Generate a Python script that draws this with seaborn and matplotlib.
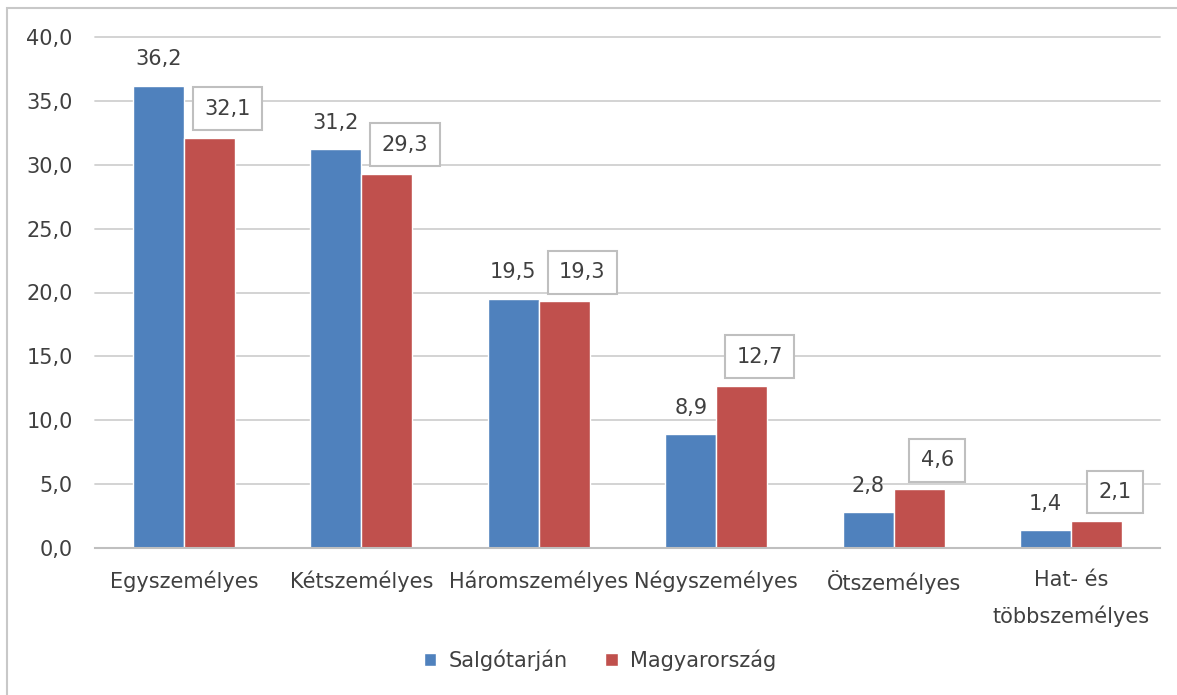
import matplotlib
matplotlib.use("Agg")
import matplotlib.pyplot as plt
import seaborn as sns
import pandas as pd
import numpy as np
from matplotlib.patches import Rectangle, Patch

categories = ["Egyszemélyes", "Kétszemélyes", "Háromszemélyes", "Négyszemélyes",
              "Ötszemélyes", "Hat- és\ntöbbszemélyes"]
salgotarjan = [36.2, 31.2, 19.5, 8.9, 2.8, 1.4]
magyarorszag = [32.1, 29.3, 19.3, 12.7, 4.6, 2.1]
series_names = ["Salgótarján", "Magyarország"]
yticks = [0, 5, 10, 15, 20, 25, 30, 35, 40]

blue = "#4F81BD"
red = "#C0504D"
gray = "#BFBFBF"
txt = "#404040"
fs = 15

df = pd.DataFrame({
    "cat": categories * 2,
    "val": salgotarjan + magyarorszag,
    "series": [series_names[0]] * len(categories) + [series_names[1]] * len(categories),
})

sns.set_style("white")
plt.rcParams["font.family"] = ["DejaVu Sans"]

fig = plt.figure(figsize=(11.77, 6.95), dpi=100)
ax = fig.add_axes([95 / 1177, 1 - 548 / 695, (1160 - 95) / 1177, (548 - 37) / 695])

sns.barplot(data=df, x="cat", y="val", hue="series", order=categories,
            hue_order=series_names, palette=[blue, red], width=0.575, saturation=1,
            edgecolor="white", linewidth=1.0, legend=False, ax=ax)

ax.set_xlim(-0.5, len(categories) - 0.5)
ax.set_ylim(0, 40)
ax.set_yticks(yticks)
ax.set_yticklabels([f"{v:.1f}".replace(".", ",") for v in yticks])
ax.yaxis.grid(True, color="#D0D0D0", linewidth=1.3)
for gl in ax.get_ygridlines():
    gl.set_clip_on(False)
ax.set_axisbelow(True)
ax.set_xlabel("")
ax.set_ylabel("")
for s in ["top", "right", "left"]:
    ax.spines[s].set_visible(False)
ax.spines["bottom"].set_color(gray)
ax.spines["bottom"].set_linewidth(1.5)

ax.tick_params(axis="y", length=0, pad=16, labelsize=fs, labelcolor=txt)
ax.tick_params(axis="x", which="major", length=0, pad=16, labelsize=fs, labelcolor=txt)
ax.set_xticks(np.arange(-0.5, len(categories), 1.0), minor=True)
ax.tick_params(axis="x", which="minor", length=7, width=1.5, color=gray, direction="out")
for lab in ax.get_xticklabels():
    lab.set_linespacing(1.9)

# data labels
n = len(categories)
bw = 0.575 / 2
for i in range(n):
    xb = i - bw / 2
    xr = i + bw / 2
    vb = salgotarjan[i]
    vr = magyarorszag[i]
    ax.annotate(f"{vb:.1f}".replace(".", ","), (xb, vb), xytext=(0, 19),
                textcoords="offset points", ha="center", va="center",
                fontsize=fs, color=txt)
    ax.annotate(f"{vr:.1f}".replace(".", ","), (xr, vr), xytext=(13, 21),
                textcoords="offset points", ha="center", va="center",
                fontsize=fs, color=txt,
                bbox=dict(boxstyle="square,pad=0.55", fc="white", ec=gray, lw=1.5))

handles = [Patch(facecolor=blue, edgecolor="white"), Patch(facecolor=red, edgecolor="white")]
fig.legend(handles, series_names, loc="center", bbox_to_anchor=(600 / 1177, 1 - 660 / 695),
           ncol=2, frameon=False, fontsize=fs, handlelength=0.6, handleheight=0.6,
           handletextpad=0.6, columnspacing=1.8, labelcolor=txt)

fig.patches.append(Rectangle((6.5 / 1177, -0.2), 1.5, 0.2 + 1 - 8 / 695,
                             transform=fig.transFigure, fill=False,
                             edgecolor="#C8C8C8", linewidth=1.5))

fig.savefig("out.png", dpi=100, facecolor="white")
